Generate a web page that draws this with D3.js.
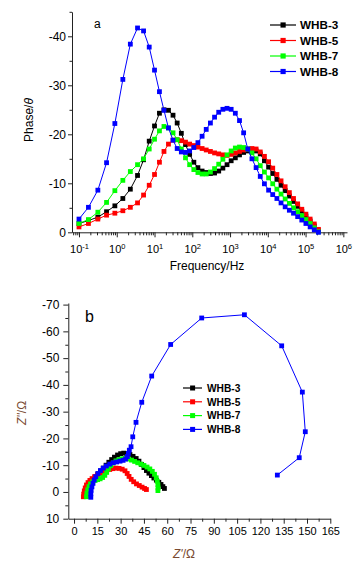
<!DOCTYPE html>
<html>
<head>
<meta charset="utf-8">
<script src="https://cdn.jsdelivr.net/npm/d3@7"></script>
<style>
	body { margin: 0; background: #fff; }
	svg { display: block; font-family: Arial, "Liberation Sans", sans-serif; }
</style>
</head>
<body>
<div id="chart"></div>
<script>
// Series names and colours
const seriesNames = ["WHB-3", "WHB-5", "WHB-7", "WHB-8"];
const seriesColors = ["#000000", "#ff0000", "#00ff00", "#0000ff"];

// Panel a: Bode phase, frequency in Hz
const frequency = [0.1, 0.178, 0.316, 0.537, 0.891, 1.45, 2.29, 3.55, 5.13, 7.24,
	10, 13.5, 17.8, 23.4, 30.9, 39.8, 51.3, 66.1, 85.1, 110,
	141, 182, 234, 302, 389, 501, 646, 832, 1070, 1380,
	1780, 2290, 2950, 3800, 4900, 6310, 8130, 10500, 13500, 17400,
	22400, 28800, 37200, 47900, 61700, 79400, 102000, 132000, 170000, 219000];
const phaseWHB3 = [-1.8, -2.4, -3.1, -4.2, -5.4, -6.9, -8.8, -11.6, -14.8, -18.6,
	-21.7, -24.3, -25.0, -24.9, -23.9, -22.3, -20.2, -17.9, -15.9, -14.3,
	-13.2, -12.5, -12.2, -12.0, -12.1, -12.5, -13.1, -13.8, -14.6, -15.2,
	-15.8, -16.3, -16.6, -16.8, -16.6, -16.0, -14.6, -13.3, -12.0, -10.8,
	-9.6, -8.5, -7.4, -6.3, -5.3, -4.3, -3.3, -2.3, -1.3, -0.3];
const phaseWHB5 = [-1.1, -1.8, -2.7, -3.5, -3.9, -4.4, -5.1, -6.0, -7.6, -9.6,
	-11.8, -14.3, -16.5, -18.0, -18.8, -18.9, -18.7, -18.4, -18.0, -17.7,
	-17.4, -17.1, -16.8, -16.5, -16.2, -16.0, -15.8, -15.7, -15.9, -16.2,
	-16.5, -16.8, -17.0, -17.1, -17.0, -16.4, -15.5, -14.4, -13.1, -11.8,
	-10.5, -9.3, -8.1, -6.9, -5.8, -4.7, -3.7, -2.7, -1.7, -0.6];
const phaseWHB7 = [-1.8, -2.6, -4.1, -6.1, -8.5, -10.6, -12.4, -13.8, -15.0, -17.0,
	-19.0, -20.7, -21.6, -21.3, -20.3, -18.9, -17.0, -15.2, -13.8, -12.8,
	-12.2, -11.9, -11.9, -12.3, -13.0, -13.9, -14.9, -15.8, -16.6, -17.2,
	-17.4, -17.3, -17.0, -16.2, -15.0, -13.6, -12.3, -11.1, -9.9, -8.8,
	-7.8, -6.8, -5.9, -5.0, -4.2, -3.4, -2.6, -1.8, -0.9, -0.1];
const phaseWHB8 = [-2.7, -5.1, -8.6, -14.2, -22.2, -31.2, -38.4, -41.7, -41.1, -37.8,
	-33.1, -28.7, -24.9, -21.3, -18.8, -17.1, -16.4, -16.3, -16.6, -17.3,
	-18.3, -19.6, -21.0, -22.3, -23.5, -24.5, -25.1, -25.3, -25.1, -24.3,
	-22.8, -20.3, -17.0, -15.0, -13.2, -11.4, -9.9, -8.6, -7.7, -6.9,
	-6.0, -5.2, -4.5, -3.9, -3.2, -2.5, -1.8, -1.1, -0.5, 0];
const freqTicks = [0.1, 1, 10, 100, 1000, 10000, 100000, 1000000];
const phaseTicks = [0, -10, -20, -30, -40];

// Panel b: Nyquist, Z' and Z'' in ohm
const zReWHB3 = [9.0, 9.3, 9.8, 10.5, 11.4, 12.5, 13.8, 15.3, 17.0, 18.8, 20.6, 22.4, 24.2, 26.0, 28.0, 30.0, 32.0,
	34.0, 36.0, 38.0, 40.0, 41.8, 43.4, 45.0, 46.6, 48.2, 49.8, 51.4, 53.0, 54.6, 56.0, 57.2, 58.2];
const zImWHB3 = [1.5, 0.3, -1.0, -2.2, -3.4, -4.5, -5.6, -6.7, -7.8, -8.9, -10.0, -11.1, -12.1, -13.0, -13.8, -14.3, -14.5,
	-14.4, -14.0, -13.3, -12.5, -11.5, -10.3, -9.1, -8.0, -7.0, -6.1, -5.2, -4.4, -3.6, -2.8, -2.0, -1.3];
const zReWHB5 = [6.0, 6.2, 6.6, 7.2, 8.0, 9.0, 10.2, 11.6, 13.2, 15.0, 17.0, 19.0, 21.0, 23.0,
	25.0, 27.0, 29.0, 31.0, 32.8, 34.2, 35.4, 36.8, 38.4, 40.2, 42.0, 43.8, 45.4, 46.6];
const zImWHB5 = [1.8, 0.8, -0.4, -1.5, -2.6, -3.5, -4.3, -5.0, -5.7, -6.3, -6.9, -7.5, -8.0, -8.4,
	-8.7, -8.9, -8.8, -8.5, -7.9, -6.9, -5.8, -4.7, -3.8, -3.0, -2.4, -1.8, -1.3, -0.9];
const zReWHB7 = [8.0, 8.3, 8.8, 9.6, 10.6, 12.0, 13.6, 15.2, 16.8, 18.4, 19.8, 21.0, 22.2, 23.6, 25.2, 27.0, 29.0,
	31.0, 33.0, 35.0, 37.0, 39.0, 41.0, 43.0, 45.0, 47.0, 48.8, 50.4, 51.8, 52.9, 53.6, 54.0, 54.1, 54.0];
const zImWHB7 = [1.8, 0.5, -0.8, -2.0, -3.0, -3.8, -4.3, -4.6, -4.9, -5.4, -6.2, -7.3, -8.6, -9.8, -10.8, -11.6, -12.1,
	-12.4, -12.5, -12.3, -11.9, -11.4, -10.9, -10.4, -9.9, -9.3, -8.6, -7.7, -6.6, -5.3, -4.0, -2.7, -1.5, -0.5];
const zReWHB8 = [10.8, 10.8, 11.0, 11.5, 12.2, 13.0, 14.0, 15.4, 17.0, 18.8, 20.8, 23.0, 25.2, 27.4, 29.6, 31.6, 33.2,
	34.3, 35.0, 35.6, 36.7, 37.8, 39.9, 43.6, 50.0, 62.2, 82.2, 109.7, 133.7, 147.0, 148.9, 145.0, 130.9];
const zImWHB8 = [2.0, 0.7, -0.6, -1.9, -3.2, -4.5, -5.7, -6.9, -8.0, -8.9, -9.7, -10.4, -10.9, -11.2, -11.5, -11.8, -12.3,
	-13.2, -14.4, -15.6, -16.9, -20.6, -26.0, -33.5, -43.3, -55.1, -65.0, -66.2, -54.6, -37.3, -22.5, -12.8, -6.3];
const zReTicks = [0, 15, 30, 45, 60, 75, 90, 105, 120, 135, 150, 165];
const zImTicks = [-70, -60, -50, -40, -30, -20, -10, 0, 10];

const width = 364, height = 565;
const axisColor = "#222";
const labelBrown = "#7a4a30";

const svg = d3.select("#chart").append("svg")
	.attr("width", width)
	.attr("height", height);
svg.append("rect").attr("width", width).attr("height", height).attr("fill", "#fff");

// ---------- Panel a ----------
const phaseSeries = [phaseWHB3, phaseWHB5, phaseWHB7, phaseWHB8].map((vals, i) => ({
	name: seriesNames[i],
	color: seriesColors[i],
	values: frequency.map((f, j) => [f, vals[j]])
}));

const xA = d3.scaleLog().domain([0.0653, 1.25e6]).range([72, 347]);
const yA = d3.scaleLinear().domain([0, -45]).range([232.3, 11.8]);

// minor ticks for the log axis
var minorFreq = [];
for (let k = -2; k <= 6; k++) {
	for (let m = 2; m <= 9; m++) {
		const v = m * Math.pow(10, k);
		if (v >= xA.domain()[0] && v <= xA.domain()[1]) minorFreq.push(v);
	}
}

const gA = svg.append("g");

gA.append("g")
	.attr("transform", `translate(0,${yA(0)})`)
	.call(d3.axisBottom(xA).tickValues(minorFreq).tickSize(3).tickFormat(""))
	.call((g) => g.select(".domain").remove());
const xAxisA = gA.append("g")
	.attr("transform", `translate(0,${yA(0)})`)
	.call(d3.axisBottom(xA).tickValues(freqTicks).tickSize(5).tickSizeOuter(0).tickPadding(5));
xAxisA.selectAll(".tick text").each(function (d) {
	const t = d3.select(this).text(null).attr("font-size", 11).attr("dy", "1.0em");
	t.append("tspan").text("10");
	t.append("tspan").attr("dy", "-0.55em").attr("font-size", 7.5).text(Math.round(Math.log10(d)));
});

const minorPhase = [-5, -15, -25, -35, -45];
gA.append("g")
	.attr("transform", "translate(72,0)")
	.call(d3.axisLeft(yA).tickValues(minorPhase).tickSize(2.5).tickFormat(""))
	.call((g) => g.select(".domain").remove());
gA.append("g")
	.attr("transform", "translate(72,0)")
	.call(d3.axisLeft(yA).tickValues(phaseTicks).tickSize(4).tickSizeOuter(0).tickPadding(2).tickFormat((d) => String(d)))
	.selectAll("text").attr("font-size", 12);

gA.selectAll(".domain, .tick line").attr("stroke", axisColor);
gA.selectAll(".tick text").attr("fill", "#000");

const lineA = d3.line().x((d) => xA(d[0])).y((d) => yA(d[1]));

const layerA = gA.selectAll("g.series")
	.data(phaseSeries)
	.join("g")
	.attr("class", "series");
layerA.append("path")
	.attr("fill", "none")
	.attr("stroke", (d) => d.color)
	.attr("stroke-width", 1)
	.attr("d", (d) => lineA(d.values));
layerA.selectAll("rect")
	.data((d) => d.values.map((v) => ({ v, color: d.color })))
	.join("rect")
	.attr("x", (d) => xA(d.v[0]) - 2.4)
	.attr("y", (d) => yA(d.v[1]) - 2.4)
	.attr("width", 4.8)
	.attr("height", 4.8)
	.attr("fill", (d) => d.color);

gA.append("text").attr("x", 94).attr("y", 28).attr("font-size", 12).text("a");
gA.append("text")
	.attr("x", 207).attr("y", 270)
	.attr("text-anchor", "middle").attr("font-size", 12)
	.text("Frequency/Hz");
gA.append("text")
	.attr("transform", "translate(33,120) rotate(-90)")
	.attr("text-anchor", "middle").attr("font-size", 12)
	.html("Phase/<tspan font-style='italic'>θ</tspan>");

// legend a
const legA = gA.append("g").selectAll("g")
	.data(phaseSeries)
	.join("g")
	.attr("transform", (d, i) => `translate(270,${25 + i * 15.5})`);
legA.append("line").attr("x1", 0).attr("x2", 26).attr("stroke", (d) => d.color).attr("stroke-width", 1.2);
legA.append("rect").attr("x", 10.5).attr("y", -2.6).attr("width", 5.2).attr("height", 5.2).attr("fill", (d) => d.color);
legA.append("text")
	.attr("x", 30).attr("y", 4.2)
	.attr("font-size", 11.7).attr("font-weight", "bold")
	.text((d) => d.name);

// ---------- Panel b ----------
const nyqSeries = [
	[zReWHB3, zImWHB3], [zReWHB5, zImWHB5], [zReWHB7, zImWHB7], [zReWHB8, zImWHB8]
].map(([re, im], i) => ({
	name: seriesNames[i],
	color: seriesColors[i],
	values: re.map((r, j) => [r, im[j]])
}));

const xB = d3.scaleLinear().domain([-3.7, 165]).range([68.3, 330.3]);
const yB = d3.scaleLinear().domain([10, -70.6]).range([518.7, 303]);

const gB = svg.append("g");
gB.append("g")
	.attr("transform", `translate(0,${yB(10)})`)
	.call(d3.axisBottom(xB).tickValues(zReTicks.slice(0, -1).map((d) => d + 7.5)).tickSize(3).tickFormat(""))
	.call((g) => g.select(".domain").remove());
gB.append("g")
	.attr("transform", `translate(0,${yB(10)})`)
	.call(d3.axisBottom(xB).tickValues(zReTicks).tickSize(5).tickSizeOuter(0).tickPadding(4))
	.selectAll("text").attr("font-size", 11);
gB.append("g")
	.attr("transform", `translate(${xB.range()[0]},0)`)
	.call(d3.axisLeft(yB).tickValues(zImTicks.slice(0, -1).map((d) => d + 5)).tickSize(3).tickFormat(""))
	.call((g) => g.select(".domain").remove());
gB.append("g")
	.attr("transform", `translate(${xB.range()[0]},0)`)
	.call(d3.axisLeft(yB).tickValues(zImTicks).tickSize(5).tickSizeOuter(0).tickPadding(4).tickFormat((d) => String(d)))
	.selectAll("text").attr("font-size", 12);

gB.selectAll(".domain, .tick line").attr("stroke", axisColor);
gB.selectAll(".tick text").attr("fill", "#000");

const lineB = d3.line().x((d) => xB(d[0])).y((d) => yB(d[1]));
const layerB = gB.selectAll("g.series")
	.data(nyqSeries)
	.join("g")
	.attr("class", "series");
layerB.append("path")
	.attr("fill", "none")
	.attr("stroke", (d) => d.color)
	.attr("stroke-width", 1)
	.attr("d", (d) => lineB(d.values));
layerB.selectAll("rect")
	.data((d) => d.values.map((v) => ({ v, color: d.color })))
	.join("rect")
	.attr("x", (d) => xB(d.v[0]) - 2.4)
	.attr("y", (d) => yB(d.v[1]) - 2.4)
	.attr("width", 4.8)
	.attr("height", 4.8)
	.attr("fill", (d) => d.color);

gB.append("text").attr("x", 85).attr("y", 322).attr("font-size", 16).text("b");
gB.append("text")
	.attr("x", 184).attr("y", 558)
	.attr("text-anchor", "middle").attr("font-size", 12).attr("fill", labelBrown)
	.html("<tspan font-style='italic'>Z'</tspan>/Ω");
gB.append("text")
	.attr("transform", "translate(26,413) rotate(-90)")
	.attr("text-anchor", "middle").attr("font-size", 12).attr("fill", labelBrown)
	.html("<tspan font-style='italic'>Z''</tspan>/Ω");

// legend b
const legB = gB.append("g").selectAll("g")
	.data(nyqSeries)
	.join("g")
	.attr("transform", (d, i) => `translate(183,${388 + i * 13.8})`);
legB.append("line").attr("x1", 0).attr("x2", 19).attr("stroke", (d) => d.color).attr("stroke-width", 1.2);
legB.append("rect").attr("x", 7.1).attr("y", -2.5).attr("width", 5).attr("height", 5).attr("fill", (d) => d.color);
legB.append("text")
	.attr("x", 24).attr("y", 3.7)
	.attr("font-size", 10.2).attr("font-weight", "bold")
	.text((d) => d.name);
</script>
</body>
</html>
